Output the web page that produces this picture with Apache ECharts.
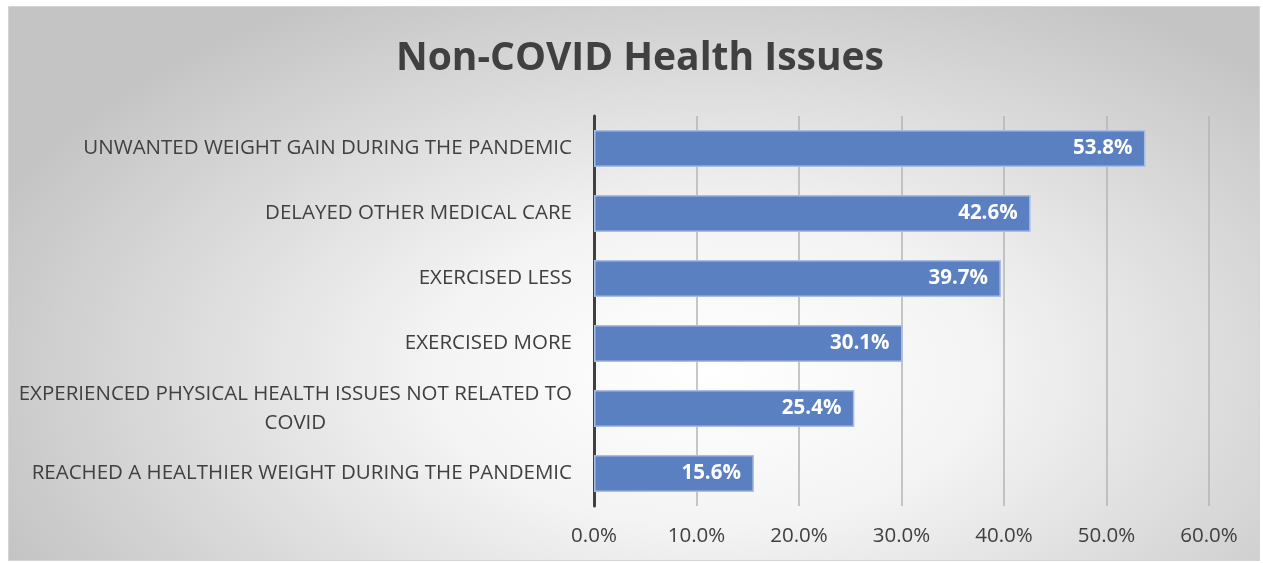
<!DOCTYPE html>
<html>
<head>
<meta charset="utf-8">
<script src="https://cdn.jsdelivr.net/npm/echarts@6/dist/echarts.min.js"></script>
<style>
  html, body { margin: 0; padding: 0; background: #fff; }
  #chart {
    position: absolute;
    left: 8px; top: 6px;
    width: 1250px; height: 553px;
    border: 1px solid #d4d4d4;
    background: radial-gradient(ellipse 62% 78% at 56% 66%, #ffffff 0%, #f4f4f4 35%, #c4c4c4 100%);
  }
</style>
</head>
<body>
<div id="chart"></div>
<script>
// 分类与数据
const categories = [
  "UNWANTED WEIGHT GAIN DURING THE PANDEMIC",
  "DELAYED OTHER MEDICAL CARE",
  "EXERCISED LESS",
  "EXERCISED MORE",
  "EXPERIENCED PHYSICAL HEALTH ISSUES NOT RELATED TO\nCOVID",
  "REACHED A HEALTHIER WEIGHT DURING THE PANDEMIC"
];
const values = [53.8, 42.6, 39.7, 30.1, 25.4, 15.6];
const xTicks = [0, 10, 20, 30, 40, 50, 60];

const chart = echarts.init(document.getElementById("chart"));

const labelFont = 20.5;

const option = {
  backgroundColor: "transparent",
  title: {
    text: "Non-COVID Health Issues",
    left: 626,
    textAlign: "center",
    top: 27,
    textStyle: {
      fontFamily: "Open Sans",
      fontSize: 39,
      fontWeight: "bold",
      color: "#404040"
    }
  },
  grid: {
    left: 585,
    right: 50,
    top: 109,
    height: 390
  },
  xAxis: {
    type: "value",
    min: xTicks[0],
    max: xTicks[xTicks.length - 1],
    interval: 10,
    axisLine: { show: false },
    axisTick: { show: false },
    splitLine: { lineStyle: { color: "#b4b4b4", width: 1.5 } },
    axisLabel: {
      margin: 20,
      fontFamily: "Open Sans",
      fontSize: 20.5,
      color: "#404040",
      formatter: v => v.toFixed(1) + "%"
    }
  },
  yAxis: {
    type: "category",
    inverse: true,
    data: categories,
    axisTick: { show: false },
    axisLine: { show: true, lineStyle: { color: "#404040", width: 3 } },
    axisLabel: {
      margin: 22,
      fontFamily: "Open Sans",
      fontSize: labelFont,
      color: "#404040",
      lineHeight: 29,
      formatter: function (v) {
        if (v.indexOf("\n") < 0) return v;
        const parts = v.split("\n");
        return "{a|" + parts[0] + "}\n{b|" + parts[1] + "}";
      },
      rich: {
        a: { fontFamily: "Open Sans", fontSize: labelFont, color: "#404040", lineHeight: 29 },
        b: { fontFamily: "Open Sans", fontSize: labelFont, color: "#404040", lineHeight: 29, align: "center" }
      }
    }
  },
  series: [
    {
      type: "bar",
      data: values,
      barCategoryGap: "43%",
      itemStyle: {
        color: "#5b80c2",
        borderColor: "#a9bde3",
        borderWidth: 1.5
      },
      label: {
        show: true,
        position: "insideRight",
        distance: 13,
        fontFamily: "Open Sans",
        fontSize: 20.5,
        fontWeight: "bold",
        color: "#ffffff",
        formatter: p => p.value.toFixed(1) + "%"
      }
    }
  ]
};

chart.setOption(option);
window.addEventListener("resize", () => chart.resize());
</script>
</body>
</html>
